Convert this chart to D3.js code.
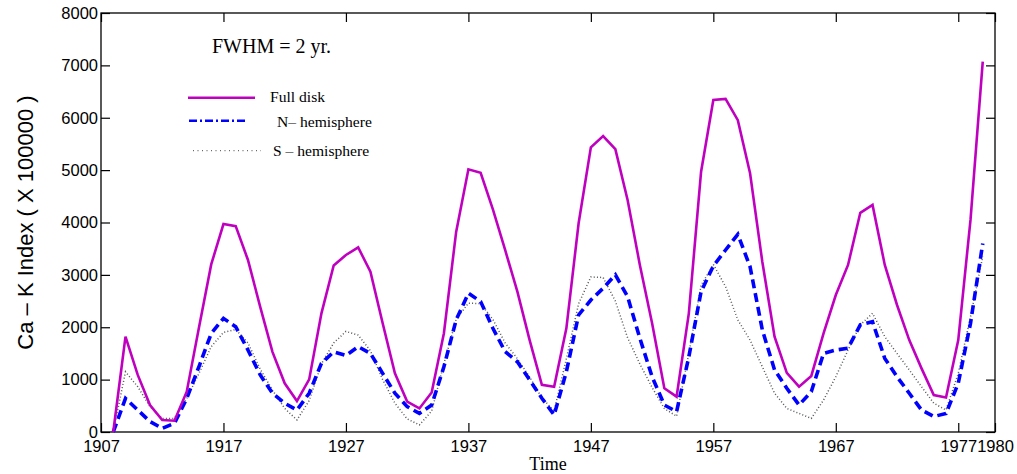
<!DOCTYPE html>
<html>
  <head>
    <meta charset='utf-8' />
    <title>Ca-K index</title>
    <script src="https://d3js.org/d3.v7.min.js"></script>
    <style>
body {
  margin: 0;
  background: #fff;
}
.axis text {
  font-family: "Liberation Sans", Arial, sans-serif;
  font-size: 16.5px;
  fill: #000;
}
.axis path { display: none; }
.axis line { stroke: #000; stroke-width: 1.2px; }
.serif {
  font-family: "Liberation Serif", "Times New Roman", serif;
  fill: #000;
}
    </style>
  </head>
  <body>
    <div id="graphic"></div>
    <script>
      // data, one point per year
      const years = d3.range(1908, 1980);
      const fullDisk = [0, 1820, 1090, 515, 230, 215, 770, 1995, 3200, 3970,
        3930, 3285, 2390, 1530, 930, 590, 1005, 2265, 3180, 3380,
        3525, 3060, 2075, 1120, 580, 450, 755, 1885, 3820, 5015,
        4950, 4250, 3475, 2680, 1755, 900, 865, 1980, 3985, 5435,
        5650, 5400, 4430, 3190, 2075, 835, 675, 2265, 4970, 6340,
        6360, 5955, 4940, 3250, 1820, 1130, 865, 1070, 1885, 2615,
        3190, 4185, 4335, 3190, 2425, 1755, 1215, 705, 660, 1755,
        4050, 7070];
      const nHemi = [0, 640, 420, 200, 70, 165, 640, 1250, 1880, 2170,
        2010, 1565, 1090, 740, 550, 420, 740, 1310, 1530, 1460,
        1630, 1500, 1120, 740, 485, 355, 515, 1245, 2140, 2650,
        2490, 1980, 1535, 1340, 995, 645, 325, 1150, 2235, 2520,
        2745, 3000, 2585, 1790, 1055, 515, 390, 1435, 2680, 3170,
        3475, 3775, 3155, 1950, 1185, 835, 515, 770, 1500, 1565,
        1600, 2045, 2105, 1405, 1055, 740, 420, 295, 355, 930,
        2075, 3600];
      const sHemi = [0, 1150, 865, 485, 260, 260, 640, 1120, 1630, 1900,
        1960, 1700, 1200, 800, 450, 230, 600, 1300, 1700, 1920,
        1850, 1550, 1000, 550, 250, 135, 400, 1300, 2150, 2460,
        2450, 2150, 1700, 1400, 1050, 650, 400, 1400, 2450, 2960,
        2950, 2500, 1800, 1300, 850, 450, 300, 1500, 2800, 3200,
        2775, 2140, 1755, 1245, 740, 450, 355, 260, 610, 1055,
        1565, 2045, 2265, 1820, 1500, 1185, 865, 550, 420, 1120,
        2200, 3350];
      const xTicks = [1907, 1917, 1927, 1937, 1947, 1957, 1967, 1977, 1980];
      const yTicks = [0, 1000, 2000, 3000, 4000, 5000, 6000, 7000, 8000];
      const legendNames = ["Full disk", "N\u2013 hemisphere", "S \u2013 hemisphere"];

      const margin = {top: 13, right: 22, bottom: 42, left: 101};
      const W = 1017, H = 474;
      const width = W - margin.left - margin.right;
      const height = H - margin.top - margin.bottom;

      const svg = d3.select("#graphic").append("svg")
        .attr("width", W)
        .attr("height", H)
        .append("g")
        .attr("transform", "translate(" + margin.left + "," + margin.top + ")");

      const x = d3.scaleLinear().domain([1907, 1980]).range([0, width]);
      const y = d3.scaleLinear().domain([0, 8000]).range([height, 0]);

      // axes, ticks pointing inward on all four sides
      svg.append("g")
        .attr("class", "axis")
        .attr("transform", "translate(0," + height + ")")
        .call(d3.axisBottom(x).tickValues(xTicks).tickFormat(d3.format("d"))
          .tickSizeInner(-9).tickSizeOuter(0).tickPadding(8.5));

      svg.append("g")
        .attr("class", "axis")
        .call(d3.axisTop(x).tickValues(xTicks).tickFormat("")
          .tickSizeInner(-9).tickSizeOuter(0));

      svg.append("g")
        .attr("class", "axis")
        .call(d3.axisLeft(y).tickValues(yTicks).tickFormat(d3.format("d"))
          .tickSizeInner(-9).tickSizeOuter(0).tickPadding(3));

      svg.append("g")
        .attr("class", "axis")
        .attr("transform", "translate(" + width + ",0)")
        .call(d3.axisRight(y).tickValues(yTicks).tickFormat("")
          .tickSizeInner(-9).tickSizeOuter(0));

      svg.append("rect")
        .attr("width", width)
        .attr("height", height)
        .attr("fill", "none")
        .attr("stroke", "#000")
        .attr("stroke-width", 1.3);

      const line = (vals) => d3.line()
        .x((d, i) => x(years[i]))
        .y((d) => y(d))(vals);

      // S hemisphere (dotted)
      svg.append("path")
        .attr("d", line(sHemi))
        .attr("fill", "none")
        .attr("stroke", "#555")
        .attr("stroke-width", 1.5)
        .attr("stroke-dasharray", "1,2.2");

      // N hemisphere (dashed)
      svg.append("path")
        .attr("d", line(nHemi))
        .attr("fill", "none")
        .attr("stroke", "#0000ff")
        .attr("stroke-width", 3.6)
        .attr("stroke-dasharray", "9,5");

      // Full disk
      svg.append("path")
        .attr("d", line(fullDisk))
        .attr("fill", "none")
        .attr("stroke", "#bf00bf")
        .attr("stroke-width", 2.6);

      // annotation + legend
      svg.append("text")
        .attr("class", "serif")
        .attr("x", 111)
        .attr("y", 40)
        .style("font-size", "20px")
        .text("FWHM = 2 yr.");

      const legend = svg.append("g");
      legend.append("line")
        .attr("x1", 87).attr("x2", 154).attr("y1", 84.7).attr("y2", 84.7)
        .attr("stroke", "#bf00bf").attr("stroke-width", 2.6);
      legend.append("line")
        .attr("x1", 88).attr("x2", 146).attr("y1", 107.7).attr("y2", 107.7)
        .attr("stroke", "#0000ff").attr("stroke-width", 2.4)
        .attr("stroke-dasharray", "8,3,2,3");
      legend.append("line")
        .attr("x1", 92).attr("x2", 160).attr("y1", 137.7).attr("y2", 137.7)
        .attr("stroke", "#444").attr("stroke-width", 1)
        .attr("stroke-dasharray", "1,3.5");

      const legendX = [169, 176, 172];
      const legendY = [88.5, 113.5, 143];
      legend.selectAll("text.leg")
        .data(legendNames)
        .enter()
        .append("text")
        .attr("class", "serif leg")
        .attr("x", (d, i) => legendX[i])
        .attr("y", (d, i) => legendY[i])
        .style("font-size", "15.6px")
        .text((d) => d);

      // axis titles
      svg.append("text")
        .attr("class", "serif")
        .attr("x", width / 2)
        .attr("y", height + 38)
        .attr("text-anchor", "middle")
        .style("font-size", "18px")
        .text("Time");

      svg.append("text")
        .attr("transform", "translate(" + (-68) + "," + (height / 2) + ") rotate(-90)")
        .attr("text-anchor", "middle")
        .style("font-family", "\"Liberation Sans\", Arial, sans-serif")
        .style("font-size", "22px")
        .text("Ca \u2013 K Index ( X 100000 )");
    </script>
  </body>
</html>
